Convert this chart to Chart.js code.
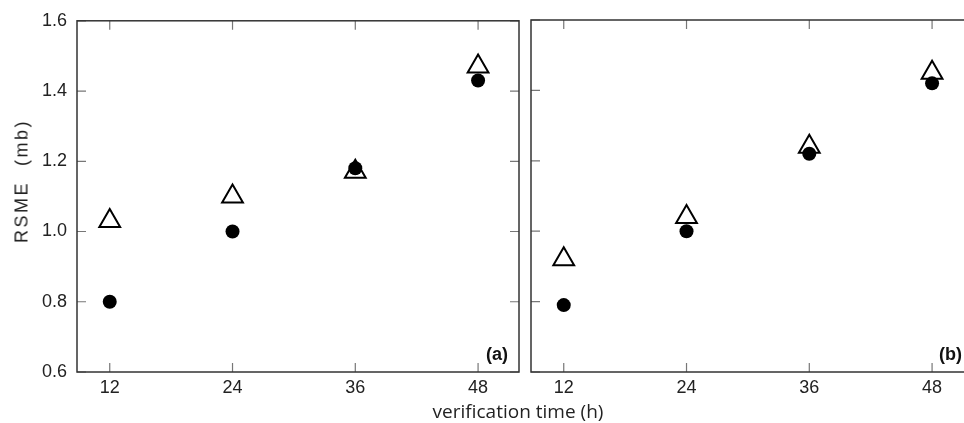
<!DOCTYPE html>
<html>
<head>
<meta charset="utf-8">
<script src="https://cdn.jsdelivr.net/npm/chart.js@4"></script>
<style>
  html, body { margin: 0; padding: 0; background: #fff; }
  body { width: 964px; height: 423px; position: relative; overflow: hidden; }
  .box { position: absolute; top: 0; height: 423px; }
  #boxL { left: 0; width: 522px; }
  #boxR { left: 522px; width: 454px; }
  .ytitle {
    position: absolute; left: 22px; top: 181px;
    transform: translate(-50%, -50%) rotate(-90deg);
    font: 18px "Liberation Sans", Arial, sans-serif; letter-spacing: 2.5px;
    white-space: pre; color: #222;
  }
  .xtitle {
    position: absolute; left: 518px; top: 400px; transform: translateX(-50%);
    font: 19px "Open Sans", sans-serif; line-height: 22px; white-space: pre; color: #222;
  }
</style>
</head>
<body>
<div class="box" id="boxL"><canvas id="left" width="522" height="423"></canvas></div>
<div class="box" id="boxR"><canvas id="right" width="454" height="423"></canvas></div>
<div class="ytitle">RSME  (mb)</div>
<div class="xtitle">verification time (h)</div>
<script>
// verification times (h)
const hours = [12, 24, 36, 48];

// panel (a)
const triA = [1.03, 1.10, 1.17, 1.47];
const dotA = [0.80, 1.00, 1.18, 1.43];

// panel (b)
const triB = [0.92, 1.04, 1.24, 1.45];
const dotB = [0.79, 1.00, 1.22, 1.42];

// y axis range / step
const yMin = 0.6, yMax = 1.6, yStep = 0.2;

const tickFont = { family: '"Liberation Sans", Arial, sans-serif', size: 18 };

// frame, inward ticks on all four sides, panel letter
const framePlugin = {
  id: 'frame',
  afterDraw(chart, args, opts) {
    const { ctx, chartArea: a, scales: { x, y } } = chart;
    ctx.save();
    ctx.strokeStyle = '#777';
    ctx.lineWidth = 1.2;
    ctx.beginPath();
    x.ticks.forEach(t => {
      const px = x.getPixelForValue(t.value);
      ctx.moveTo(px, a.bottom); ctx.lineTo(px, a.bottom - 9);
      ctx.moveTo(px, a.top); ctx.lineTo(px, a.top + 9);
    });
    y.ticks.forEach(t => {
      const py = y.getPixelForValue(t.value);
      ctx.moveTo(a.left, py); ctx.lineTo(a.left + 9, py);
      ctx.moveTo(a.right, py); ctx.lineTo(a.right - 9, py);
    });
    ctx.stroke();
    ctx.strokeStyle = '#333';
    ctx.lineWidth = 1.5;
    ctx.strokeRect(a.left, a.top, a.right - a.left, a.bottom - a.top);
    ctx.fillStyle = '#111';
    ctx.font = 'bold 18px "Liberation Sans", Arial, sans-serif';
    ctx.textAlign = 'right';
    ctx.textBaseline = 'bottom';
    ctx.fillText(opts.label, a.right - 11, a.bottom - 8);
    ctx.restore();
  }
};

function panel(id, tri, dot, label, showY) {
  new Chart(document.getElementById(id), {
    type: 'scatter',
    data: {
      datasets: [
        {
          data: hours.map((h, i) => ({ x: h, y: dot[i] })),
          pointStyle: 'circle', pointRadius: 7, pointHoverRadius: 7,
          pointBackgroundColor: '#000', pointBorderColor: '#000', pointBorderWidth: 0
        },
        {
          data: hours.map((h, i) => ({ x: h, y: tri[i] })),
          pointStyle: 'triangle', pointRadius: 12, pointHoverRadius: 12,
          pointBackgroundColor: '#fff', pointBorderColor: '#000', pointBorderWidth: 2
        }
      ]
    },
    options: {
      responsive: false,
      animation: false,
      events: [],
      layout: { autoPadding: false, padding: { top: 20, right: 3, left: 0, bottom: 0 } },
      plugins: {
        legend: { display: false },
        tooltip: { enabled: false },
        frame: { label: label }
      },
      scales: {
        x: {
          type: 'linear', min: 8.8, max: 52,
          afterBuildTicks: s => { s.ticks = hours.map(v => ({ value: v })); },
          afterFit: s => { s.height = 51; },
          grid: { display: false, drawTicks: false },
          border: { display: false },
          ticks: { font: tickFont, color: '#222', padding: 5, maxRotation: 0 }
        },
        y: {
          min: yMin, max: yMax,
          afterFit: s => { s.width = showY ? 77 : 9; },
          grid: { display: false, drawTicks: false },
          border: { display: false },
          ticks: {
            display: showY, stepSize: yStep, font: tickFont, color: '#222', padding: 10,
            callback: v => v.toFixed(1)
          }
        }
      }
    },
    plugins: [framePlugin]
  });
}

panel('left', triA, dotA, '(a)', true);
panel('right', triB, dotB, '(b)', false);
</script>
</body>
</html>
